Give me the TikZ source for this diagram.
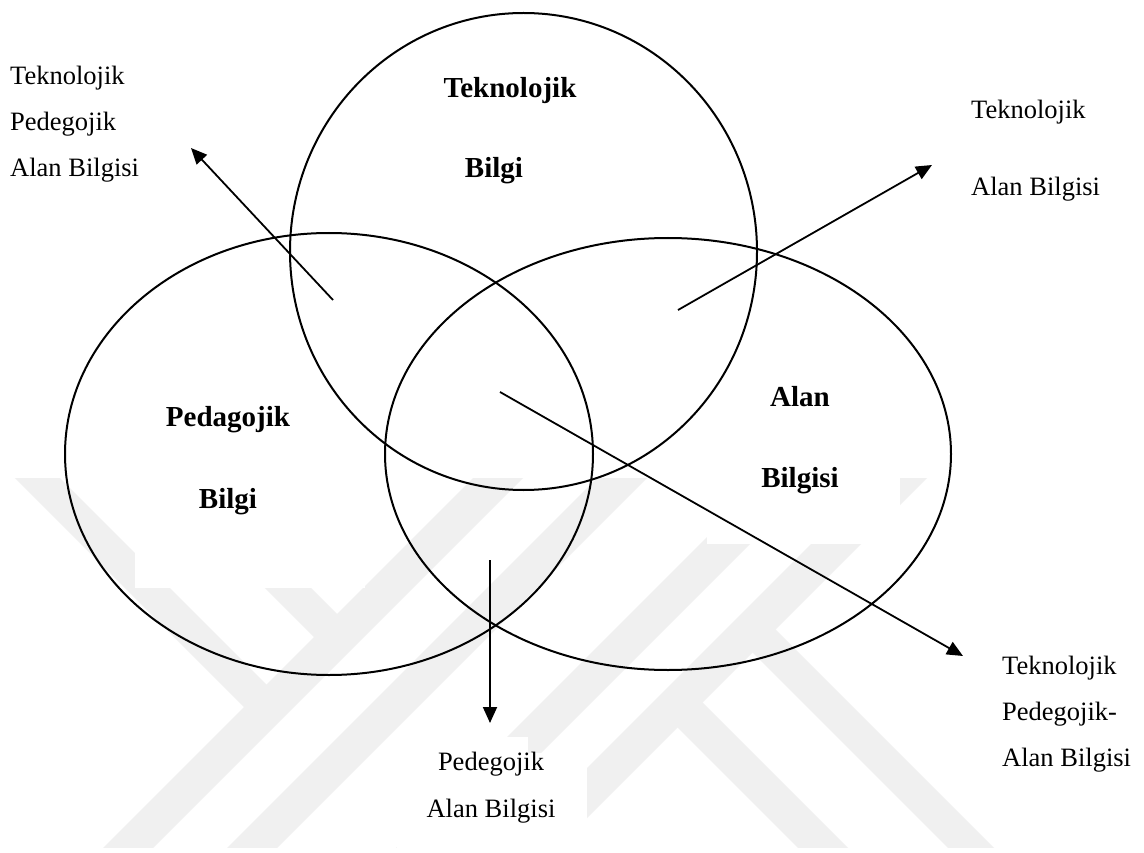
\documentclass[tikz,border=0pt]{standalone}
\usepackage{fontspec}
\setmainfont{Liberation Serif}
\usetikzlibrary{arrows.meta,shapes.geometric}
\begin{document}
\begin{tikzpicture}[x=1pt,y=-1pt,
  venn/.style={ellipse,draw=black,line width=2pt,inner sep=0pt,outer sep=0pt},
  boldlbl/.style={font=\fontsize{29}{34}\selectfont\bfseries,inner sep=0pt,anchor=base},
  lbl/.style={font=\fontsize{26.5}{31}\selectfont,inner sep=0pt,anchor=base west},
  clbl/.style={font=\fontsize{26.5}{31}\selectfont,inner sep=0pt,anchor=base},
  arr/.style={line width=1.8pt,-{Triangle[length=16pt,width=14pt]}},
  wm/.style={fill=black!6,draw=none},
  wbox/.style={fill=white,draw=none}
]
\useasboundingbox (0,0) rectangle (1144,853);
\fill[white] (0,0) rectangle (1144,853);

% faint watermark
\begin{scope}
  \clip (0,478) rectangle (1144,847);
  \path[wm] (551,400) -- (601,400) -- (101,900) -- (51,900) -- cycle;
  \path[wm] (675,400) -- (725,400) -- (225,900) -- (175,900) -- cycle;
  \path[wm] (844,400) -- (894,400) -- (394,900) -- (344,900) -- cycle;
  \path[wm] (955,400) -- (1005,400) -- (505,900) -- (455,900) -- cycle;
  \path[wm] (-63,400) -- (-18,400) -- (271.5,689.5) -- (249,712) -- cycle;
  \path[wm] (77,400) -- (123,400) -- (342,619) -- (319,642) -- cycle;
  \path[wm] (747.5,647.5) -- (770.5,624.5) -- (1046,900) -- (1000,900) -- cycle;
  \path[wm] (672.5,722.5) -- (697.5,697.5) -- (900,900) -- (850,900) -- cycle;
\end{scope}
\path[wbox] (135,470) rectangle (365,588);
\path[wbox] (707,470) rectangle (900,544);
\path[wbox] (397,753) rectangle (587,853);
\path[wbox] (478,737) rectangle (528,753);

% circles
\node[venn,minimum width=467pt,minimum height=477pt] (tk) at (523.5,251.5) {};
\node[venn,minimum width=528pt,minimum height=442pt] (pb) at (329,454) {};
\node[venn,minimum width=566pt,minimum height=432pt] (ab) at (668,454) {};

% bold labels
\node[boldlbl] (tk1) at (510,98) {Teknolojik};
\node[boldlbl] (tk2) at (494,178) {Bilgi};
\node[boldlbl] (pb1) at (228,426) {Pedagojik};
\node[boldlbl] (pb2) at (228,508) {Bilgi};
\node[boldlbl] (ab1) at (800,406) {Alan};
\node[boldlbl] (ab2) at (800,487) {Bilgisi};

% outer labels
\node[lbl] (tpa1) at (10,85) {Teknolojik};
\node[lbl] (tpa2) at (10,131) {Pedegojik};
\node[lbl] (tpa3) at (10,177) {Alan Bilgisi};
\node[lbl] (ta1) at (971,119) {Teknolojik};
\node[lbl] (ta2) at (971,196) {Alan Bilgisi};
\node[clbl] (pa1) at (491,770) {Pedegojik};
\node[clbl] (pa2) at (491,817) {Alan Bilgisi};
\node[lbl] (tpb1) at (1002,674) {Teknolojik};
\node[lbl] (tpb2) at (1002,720) {Pedegojik-};
\node[lbl] (tpb3) at (1002,766) {Alan Bilgisi};

% arrows
\coordinate (c1s) at (333,300);
\coordinate (c1e) at (191,148);
\coordinate (c2s) at (678,310);
\coordinate (c2e) at (932,165);
\coordinate (c3s) at (490,560);
\coordinate (c3e) at (490,723);
\coordinate (c4s) at (500,392);
\coordinate (c4e) at (963,656);
\draw[arr] (c1s) -- (c1e);
\draw[arr] (c2s) -- (c2e);
\draw[arr] (c3s) -- (c3e);
\draw[arr] (c4s) -- (c4e);
\end{tikzpicture}
\end{document}
